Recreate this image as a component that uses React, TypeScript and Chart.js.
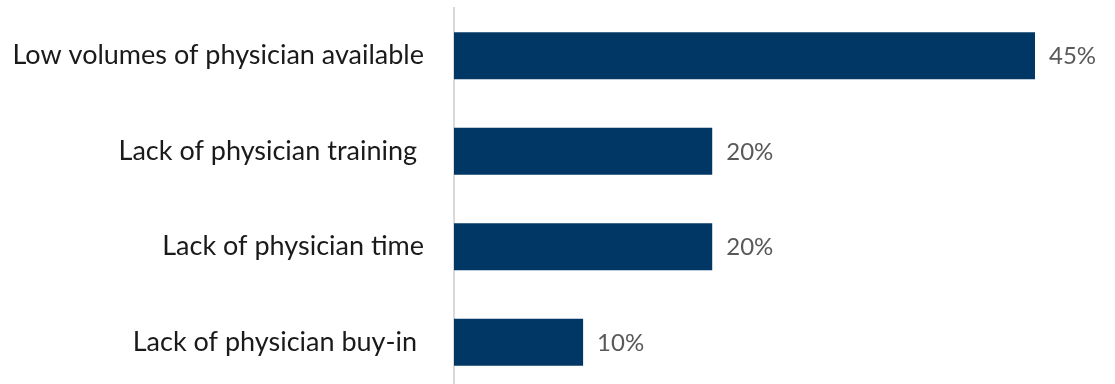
import React, { useEffect, useRef } from "react";
import { Chart, registerables } from "chart.js";

Chart.register(...registerables);

const categories = [
  "Low volumes of physician available",
  "Lack of physician training ",
  "Lack of physician time",
  "Lack of physician buy-in ",
];
const values = [45, 20, 20, 10];
const valueLabels = ["45%", "20%", "20%", "10%"];

const FONT = "Lato, 'Open Sans', sans-serif";

const valueLabelPlugin = {
  id: "valueLabels",
  afterDatasetsDraw(chart: any) {
    const ctx = chart.ctx;
    const meta = chart.getDatasetMeta(0);
    ctx.save();
    ctx.font = `24px ${FONT}`;
    ctx.fillStyle = "#595959";
    ctx.textAlign = "left";
    ctx.textBaseline = "middle";
    meta.data.forEach((bar: any, i: number) => {
      ctx.fillText(valueLabels[i], bar.x + 14, bar.y + 1);
    });
    ctx.restore();
  },
};

export default function App() {
  const ref = useRef<HTMLCanvasElement | null>(null);
  useEffect(() => {
    document.body.style.margin = "0";
    const chart = new Chart(ref.current!, {
      type: "bar",
      data: {
        labels: categories,
        datasets: [
          {
            data: values,
            backgroundColor: "#003764",
            borderWidth: 0,
            categoryPercentage: 1,
            barPercentage: 0.49,
          },
        ],
      },
      options: {
        indexAxis: "y",
        animation: false,
        responsive: false,
        maintainAspectRatio: false,
        layout: { padding: { top: 8, right: 80, bottom: 0, left: 0 } },
        plugins: {
          legend: { display: false },
          tooltip: { enabled: false },
        },
        scales: {
          x: {
            display: false,
            min: 0,
            max: 45,
          },
          y: {
            grid: { display: false },
            border: { display: true, color: "#d9d9d9", width: 2 },
            ticks: {
              color: "#1a1a1a",
              font: { family: FONT, size: 27 },
              padding: 22,
            },
            afterFit(scale: any) {
              scale.width = 454;
              scale.paddingTop = 0;
              scale.paddingBottom = 0;
            },
          },
        },
      },
      plugins: [valueLabelPlugin],
    });
    return () => chart.destroy();
  }, []);
  return (
    <div style={{ position: "absolute", left: 0, top: 0, width: 1115, height: 390 }}>
      <canvas ref={ref} width={1115} height={390} style={{ display: "block" }} />
    </div>
  );
}
